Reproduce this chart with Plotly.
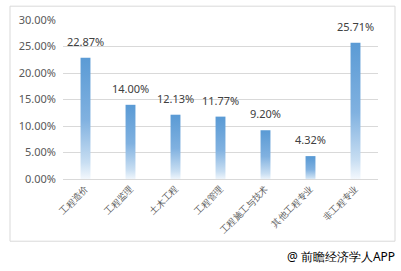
import plotly.graph_objects as go

categories = ["工程造价", "工程监理", "土木工程", "工程管理", "工程施工与技术", "其他工程专业", "非工程专业"]
values = [22.87, 14.00, 12.13, 11.77, 9.20, 4.32, 25.71]
y_ticks = [0, 5, 10, 15, 20, 25, 30]

W, H = 401, 271
ml, mr, mt, mb = 63, 23, 18, 92
pw, ph = W - ml - mr, H - mt - mb

def px_x(p):
    return (p - ml) / pw

def px_y(p):
    return (H - mb - p) / ph

blue = "#5b9bd5"
fig = go.Figure()
hw = 0.11
for i, v in enumerate(values):
    fig.add_trace(go.Scatter(
        x=[i - hw, i + hw, i + hw, i - hw, i - hw],
        y=[0, 0, v, v, 0],
        mode="lines", fill="toself",
        line=dict(width=0, color=blue),
        fillgradient=dict(type="vertical", start=0, stop=v,
                          colorscale=[[0, "#f8fbfe"], [0.15, "#c8def2"],
                                      [0.5, "#80b1e0"], [1, blue]]),
        hoverinfo="skip", showlegend=False))

annotations = []
for i, v in enumerate(values):
    annotations.append(dict(x=i, y=v, xref="x", yref="y", text=f"{v:.2f}%",
                            showarrow=False, yanchor="bottom", yshift=7,
                            font=dict(size=11, color="#404040")))

annotations.append(dict(text="@ 前瞻经济学人APP", xref="paper", yref="paper",
                        x=px_x(397), y=px_y(257), xanchor="right", yanchor="middle",
                        showarrow=False, font=dict(size=12, color="#000000")))

fig.update_layout(
    width=W, height=H,
    margin=dict(l=ml, r=mr, t=mt, b=mb),
    paper_bgcolor="white", plot_bgcolor="white",
    font=dict(family="Noto Sans, sans-serif", color="#595959"),
    xaxis=dict(range=[-0.5, 6.5], tickvals=list(range(len(categories))), ticktext=categories,
               tickangle=-45, tickfont=dict(size=9, color="#595959"),
               showgrid=False, zeroline=False, showline=True, linecolor="#d9d9d9", linewidth=1,
               ticks="", fixedrange=True),
    yaxis=dict(range=[0, 30], tickvals=y_ticks, ticktext=[f"{t:.2f}%" for t in y_ticks],
               tickfont=dict(size=11, color="#595959"), showgrid=True, gridcolor="#d9d9d9",
               zeroline=False, showline=False, ticks="", ticklabelstandoff=6, fixedrange=True),
    shapes=[dict(type="rect", xref="paper", yref="paper",
                 x0=px_x(10), x1=px_x(395), y0=px_y(242), y1=px_y(4),
                 line=dict(color="#d9d9d9", width=1), fillcolor="rgba(0,0,0,0)", layer="below")],
    annotations=annotations,
)

fig.write_html("out.html")
